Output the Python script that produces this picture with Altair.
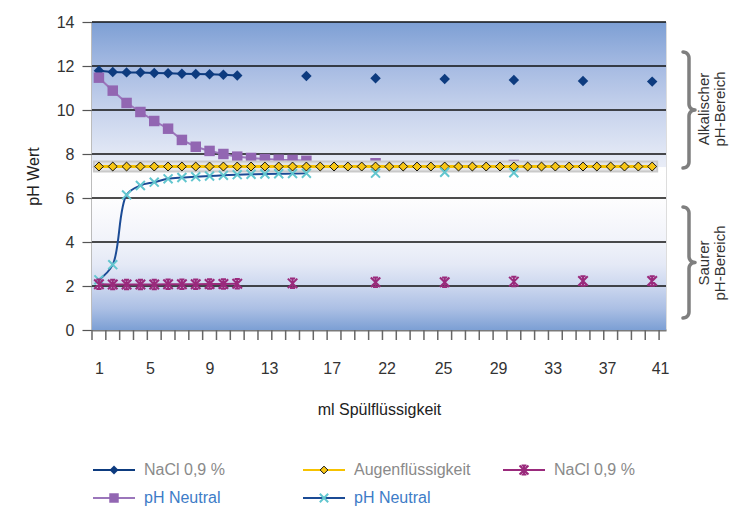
import json
import numpy as np
import pandas as pd
import altair as alt

# ---------------- data ----------------
nacl_x = [1, 2, 3, 4, 5, 6, 7, 8, 9, 10, 11, 16, 21, 26, 31, 36, 41]
nacl_y = [11.78, 11.73, 11.71, 11.70, 11.68, 11.67, 11.65, 11.64, 11.62, 11.60, 11.57,
          11.55, 11.44, 11.41, 11.36, 11.32, 11.29]
nacl_joined = 11

augen_x = list(range(1, 42))
augen_y = [7.43, 7.43, 7.43, 7.43, 7.43, 7.43, 7.43, 7.43, 7.43, 7.43, 7.43, 7.43, 7.43, 7.43,
           7.43, 7.43, 7.43, 7.43, 7.43, 7.43, 7.43, 7.43, 7.43, 7.43, 7.43, 7.43, 7.43, 7.43,
           7.43, 7.43, 7.43, 7.43, 7.43, 7.43, 7.43, 7.43, 7.43, 7.43, 7.43, 7.43, 7.43]
augen_joined = 41

acid_x = [1, 2, 3, 4, 5, 6, 7, 8, 9, 10, 11, 15, 21, 26, 31, 36, 41]
acid_y = [2.08, 2.07, 2.07, 2.07, 2.07, 2.08, 2.08, 2.08, 2.09, 2.09, 2.10,
          2.12, 2.17, 2.17, 2.20, 2.23, 2.23]
acid_joined = 11

purple_x = [1, 2, 3, 4, 5, 6, 7, 8, 9, 10, 11, 12, 13, 14, 15, 16, 21, 31, 36]
purple_y = [11.47, 10.88, 10.32, 9.91, 9.50, 9.15, 8.64, 8.33, 8.14, 8.00, 7.88, 7.82,
            7.77, 7.74, 7.73, 7.69, 7.58, 7.50, 7.43]
purple_joined = 16

cyan_x = [1, 2, 3, 4, 5, 6, 7, 8, 9, 10, 11, 12, 13, 14, 15, 16, 21, 26, 31]
cyan_y = [2.28, 2.97, 6.14, 6.57, 6.72, 6.87, 6.93, 6.97, 7.00, 7.03, 7.06, 7.08,
          7.09, 7.10, 7.11, 7.12, 7.13, 7.17, 7.15]
cyan_joined = 16

x_label_text = ["1", "5", "9", "13", "17", "22", "25", "29", "33", "37", "41"]
x_label_pos = [1.0, 4.69, 9.0, 13.3, 17.83, 21.8, 25.88, 29.86, 33.81, 37.74, 41.57]
x_band_edges = [0.5 + i for i in range(42)]
y_ticks = [0, 2, 4, 6, 8, 10, 12, 14]
y_grid = [2, 4, 6, 8, 10, 12, 14]
split_ph = 7.4

legend_names = ["NaCl 0,9 %", "Augenflüssigkeit", "NaCl 0,9 %", "pH Neutral", "pH Neutral"]

# ---------------- layout ----------------
W, H = 574, 308
XD = [0.5, 42.0]
YD = [0, 14]
FONT = "Liberation Sans"

xs = alt.Scale(domain=XD, nice=False, zero=False)
ys = alt.Scale(domain=YD, nice=False, zero=False)


def px2x(p):
    return XD[0] + p * (XD[1] - XD[0]) / W


def py2y(p):
    return YD[1] - p * (YD[1] - YD[0]) / H


label_expr = f"{json.dumps(x_label_text)}[indexof({json.dumps(x_label_pos)}, datum.value)]"
x_axis = alt.Axis(orient="bottom", values=x_label_pos, labelExpr=label_expr, ticks=False,
                  tickSize=0, domain=True, domainColor="#7a7a7a", domainWidth=2,
                  grid=False, labelPadding=30, labelFontSize=16,
                  labelColor="#333", labelFont=FONT, labelOverlap=False, labelFlush=False,
                  labelBound=False, title="ml Spülflüssigkeit", titleFont=FONT,
                  titleFontSize=16, titleFontWeight="normal", titleColor="#222",
                  titlePadding=25)

y_axis = alt.Axis(orient="left", values=y_ticks, tickSize=10, tickColor="#555", tickWidth=1.2,
                  domainColor="#7a7a7a", domainWidth=2, grid=False, labelFontSize=16,
                  labelColor="#333", labelFont=FONT, labelPadding=8, title="pH Wert",
                  titleFont=FONT, titleFontSize=16, titleFontWeight="normal",
                  titleColor="#222", titlePadding=15)


def X(field):
    return alt.X(field, scale=xs, axis=x_axis)


def Y(field):
    return alt.Y(field, scale=ys, axis=y_axis)


def sdf(xv, yv):
    return pd.DataFrame({"x": xv, "y": yv})


def enc_xy(ch):
    return ch.encode(x=X("x:Q"), y=Y("y:Q"))


C_NACL = "#0d3b7f"
C_YEL = "#f6c200"
C_MAG = "#9a2a7c"
C_PUR = "#9266b2"
C_CYAN = "#62c6cf"
C_CYLINE = "#1b4b95"

STAR = "M-1,-1L1,1M-1,1L1,-1M0,-1.1L0,1.1M-0.55,-1L0.55,-1M-0.55,1L0.55,1"
XSHAPE = "M-1,-1L1,1M-1,1L1,-1"

# ---------------- background gradient ----------------
top_df = pd.DataFrame({"x0": [XD[0]], "x1": [XD[1]], "y0": [split_ph], "y1": [YD[1]]})
bot_df = pd.DataFrame({"x0": [XD[0]], "x1": [XD[1]], "y0": [YD[0]], "y1": [split_ph]})

grad_top = alt.Chart(top_df).mark_rect(
    color=alt.Gradient(gradient="linear", x1=0, x2=0, y1=0, y2=1, stops=[
        alt.GradientStop(offset=0, color="#7d9fd4"),
        alt.GradientStop(offset=0.3, color="#a5bae2"),
        alt.GradientStop(offset=0.6, color="#c6d2ec"),
        alt.GradientStop(offset=0.9, color="#e1e7f5"),
        alt.GradientStop(offset=1, color="#e9edf7"),
    ])
).encode(x=X("x0:Q"), x2="x1:Q", y=Y("y0:Q"), y2="y1:Q")

grad_bot = alt.Chart(bot_df).mark_rect(
    color=alt.Gradient(gradient="linear", x1=0, x2=0, y1=0, y2=1, stops=[
        alt.GradientStop(offset=0, color="#ffffff"),
        alt.GradientStop(offset=0.2, color="#fdfdfe"),
        alt.GradientStop(offset=0.45, color="#f1f3fa"),
        alt.GradientStop(offset=0.6, color="#e4e9f6"),
        alt.GradientStop(offset=0.73, color="#ccd7ef"),
        alt.GradientStop(offset=0.87, color="#abbfe4"),
        alt.GradientStop(offset=1, color="#7c9fd4"),
    ])
).encode(x=X("x0:Q"), x2="x1:Q", y=Y("y0:Q"), y2="y1:Q")

grid = alt.Chart(pd.DataFrame({"v": y_grid})).mark_rule(color="#111", strokeWidth=1.3).encode(
    y=Y("v:Q"), x=alt.value(0), x2=alt.value(W)
)

x_ticks = alt.Chart(pd.DataFrame({"t": x_band_edges})).mark_rule(
    color="#666", strokeWidth=1.5).encode(
    x=X("t:Q"), y=alt.value(H), y2=alt.value(H + 10)
)

# ---------------- series ----------------
nacl_line = enc_xy(alt.Chart(sdf(nacl_x[:nacl_joined], nacl_y[:nacl_joined]))
                   .mark_line(color=C_NACL, strokeWidth=2))
nacl_pts = enc_xy(alt.Chart(sdf(nacl_x, nacl_y))
                  .mark_point(shape="diamond", filled=True, size=110, color=C_NACL, opacity=1))

pur_line = enc_xy(alt.Chart(sdf(purple_x[:purple_joined], purple_y[:purple_joined]))
                  .mark_line(color="#9b76bb", strokeWidth=2))
pur_pts = enc_xy(alt.Chart(sdf(purple_x, purple_y))
                 .mark_point(shape="square", filled=True, size=110, color=C_PUR, opacity=1))

cy_line = enc_xy(alt.Chart(sdf(cyan_x[:cyan_joined], cyan_y[:cyan_joined]))
                 .mark_line(color=C_CYLINE, strokeWidth=2, interpolate="catmull-rom"))
cy_pts = enc_xy(alt.Chart(sdf(cyan_x, cyan_y))
                .mark_point(shape=XSHAPE, filled=False, size=80, color=C_CYAN, strokeWidth=2,
                            opacity=1))

mag_line = enc_xy(alt.Chart(sdf(acid_x[:acid_joined], acid_y[:acid_joined]))
                  .mark_line(color=C_MAG, strokeWidth=2))
mag_pts = enc_xy(alt.Chart(sdf(acid_x, acid_y))
                 .mark_point(shape=STAR, filled=False, size=90, color=C_MAG, strokeWidth=2,
                             opacity=1))

yel_df = sdf(augen_x[:augen_joined], augen_y[:augen_joined])
yel_band1 = enc_xy(alt.Chart(yel_df).mark_line(color="#c9c9c9", strokeWidth=12, strokeCap="square"))
yel_band2 = enc_xy(alt.Chart(yel_df).mark_line(color="#e4e4e4", strokeWidth=8, strokeCap="square"))
yel_line = enc_xy(alt.Chart(yel_df).mark_line(color=C_YEL, strokeWidth=3))
yel_pts = enc_xy(alt.Chart(sdf(augen_x, augen_y))
                 .mark_point(shape="diamond", filled=True, size=80, fill="#f8c614",
                             stroke="#111", strokeWidth=1, opacity=1))

# ---------------- braces + side labels ----------------
def brace(ytop, ybot, xv, r, g):
    pts = []
    ymid = (ytop + ybot) / 2
    for t in np.linspace(-np.pi / 2, 0, 8):
        pts.append((xv - r + r * np.cos(t), ytop + r + r * np.sin(t)))
    for t in np.linspace(np.pi, np.pi / 2, 8):
        pts.append((xv + r + r * np.cos(t), ymid - r + r * np.sin(t)))
    for t in np.linspace(-np.pi / 2, -np.pi, 8):
        pts.append((xv + r + r * np.cos(t), ymid + r + r * np.sin(t)))
    for t in np.linspace(0, np.pi / 2, 8):
        pts.append((xv - r + r * np.cos(t), ybot - r + r * np.sin(t)))
    return pd.DataFrame({"x": [px2x(p[0]) for p in pts], "y": [py2y(p[1]) for p in pts],
                         "i": range(len(pts)), "g": g})


brace_df = pd.concat([brace(30, 146, 597, 6, "a"), brace(185, 296, 597, 6, "s")])
braces = alt.Chart(brace_df).mark_line(color="#7f7f7f", strokeWidth=3.5, strokeCap="round",
                                        strokeJoin="round").encode(
    x=X("x:Q"), y=Y("y:Q"), order="i:Q", detail="g:N")

side_alk = alt.Chart().mark_text(text=["Alkalischer", "pH-Bereich"], angle=270, fontSize=15,
                                 font=FONT, color="#333", lineHeight=16,
                                 align="center", baseline="middle").encode(
    x=alt.value(612), y=alt.value(87))
side_acid = alt.Chart().mark_text(text=["Saurer", "pH-Bereich"], angle=270, fontSize=15,
                                  font=FONT, color="#333", lineHeight=16,
                                  align="center", baseline="middle").encode(
    x=alt.value(612), y=alt.value(241))

# ---------------- legend ----------------
leg = []


def legend_item(x0, y0, line_color, text, text_color, shape, filled, size, mcolor,
                stroke=None):
    items = [alt.Chart().mark_rule(color=line_color, strokeWidth=2).encode(
        x=alt.value(x0), x2=alt.value(x0 + 42), y=alt.value(y0))]
    kw = dict(shape=shape, filled=filled, size=size, opacity=1)
    if filled:
        kw["fill"] = mcolor
        if stroke:
            kw["stroke"] = stroke
            kw["strokeWidth"] = 1
    else:
        kw["color"] = mcolor
        kw["strokeWidth"] = 2
    items.append(alt.Chart().mark_point(**kw).encode(x=alt.value(x0 + 21), y=alt.value(y0)))
    items.append(alt.Chart().mark_text(text=text, align="left", baseline="middle", fontSize=16,
                                       font=FONT, color=text_color).encode(
        x=alt.value(x0 + 51), y=alt.value(y0)))
    return items


GRAY_T = "#8a8a8a"
BLUE_T = "#3d7cc7"
leg += legend_item(1, 448, C_NACL, legend_names[0], GRAY_T, "diamond", True, 80, C_NACL)
leg += legend_item(211, 448, C_YEL, legend_names[1], GRAY_T, "diamond", True, 60, "#f8c614", "#111")
leg += legend_item(411, 448, C_MAG, legend_names[2], GRAY_T, STAR, False, 80, C_MAG)
leg += legend_item(1, 476, "#9b76bb", legend_names[3], BLUE_T, "square", True, 90, C_PUR)
leg += legend_item(211, 476, C_CYLINE, legend_names[4], BLUE_T, XSHAPE, False, 70, C_CYAN)

chart = alt.layer(
    grad_top, grad_bot, grid, x_ticks,
    nacl_line, nacl_pts,
    pur_line, pur_pts,
    cy_line,
    yel_band1, yel_band2, yel_line, yel_pts,
    cy_pts,
    mag_line, mag_pts,
    braces, side_alk, side_acid,
    *leg,
).properties(
    width=W, height=H,
    autosize=alt.AutoSizeParams(type="none"),
    padding={"left": 84, "top": 14, "right": 63, "bottom": 177},
).configure_view(stroke=None).configure(background="white")

chart.save("out.html", embed_options={"renderer": "svg", "actions": False})
